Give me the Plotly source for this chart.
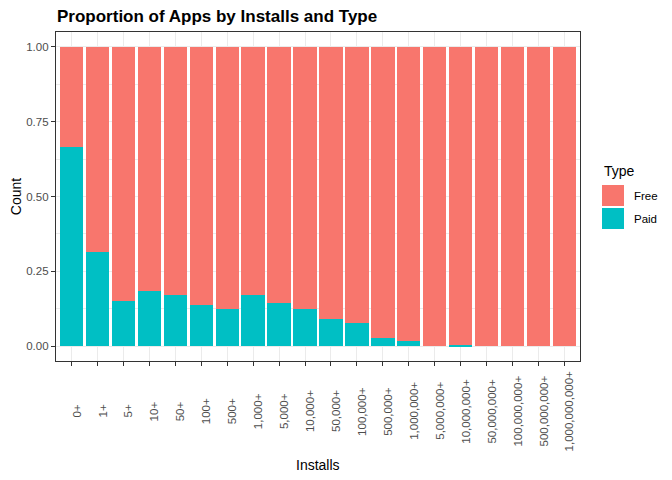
import plotly.graph_objects as go

# install buckets, in the order they appear on the axis
installs = ["0+", "1+", "5+", "10+", "50+", "100+", "500+", "1,000+", "5,000+",
            "10,000+", "50,000+", "100,000+", "500,000+", "1,000,000+",
            "5,000,000+", "10,000,000+", "50,000,000+", "100,000,000+",
            "500,000,000+", "1,000,000,000+"]

# share of paid apps in each bucket
paid_share = [0.667, 0.316, 0.150, 0.183, 0.170, 0.136, 0.123, 0.170, 0.143,
              0.125, 0.092, 0.077, 0.027, 0.016, 0.0, 0.002, 0.0, 0.0, 0.0, 0.0]
free_share = [round(1 - p, 3) for p in paid_share]

y_ticks = [0, 0.25, 0.5, 0.75, 1.0]
y_tick_text = ["0.00", "0.25", "0.50", "0.75", "1.00"]

FREE_COL = "#F8766D"
PAID_COL = "#00BFC4"
FONT = "Liberation Sans, Arial, sans-serif"

# the page body adds 8px on the top/left, so the figure is made 8px smaller
OFF = 8
W, H = 672 - OFF, 480 - OFF
L, R, T, B = 56 - OFF, 92, 32 - OFF, 119
pw, ph = W - L - R, H - T - B


# page pixel -> paper coords
def px_x(v):
    return (v - OFF - L) / pw


def px_y(v):
    return (H - B - (v - OFF)) / ph


fig = go.Figure()
# paid first so it ends up at the bottom of the stack
fig.add_trace(go.Bar(x=installs, y=paid_share, name="Paid", marker_color=PAID_COL,
                     marker_line_width=0, showlegend=False))
fig.add_trace(go.Bar(x=installs, y=free_share, name="Free", marker_color=FREE_COL,
                     marker_line_width=0, showlegend=False))

# rotated category labels, centred under each tick like ggplot does
annos = []
for lab in installs:
    annos.append(dict(x=lab, xref="x", y=px_y(411), yref="paper", text=lab,
                      textangle=-90, showarrow=False, xanchor="center", yanchor="middle",
                      xshift=5,
                      font=dict(family=FONT, size=11.5, color="#4D4D4D")))

# hand-made legend so the keys are as big as the ggplot ones
annos.append(dict(x=px_x(602), y=px_y(171), xref="paper", yref="paper", text="Type",
                  showarrow=False, xanchor="left", yanchor="middle",
                  font=dict(family=FONT, size=14, color="black")))
annos.append(dict(x=px_x(632), y=px_y(196), xref="paper", yref="paper", text="Free",
                  showarrow=False, xanchor="left", yanchor="middle",
                  font=dict(family=FONT, size=11.5, color="black")))
annos.append(dict(x=px_x(632), y=px_y(219), xref="paper", yref="paper", text="Paid",
                  showarrow=False, xanchor="left", yanchor="middle",
                  font=dict(family=FONT, size=11.5, color="black")))
# x axis title
annos.append(dict(x=0.5, y=px_y(465), xref="paper", yref="paper", text="Installs",
                  showarrow=False, xanchor="center", yanchor="middle",
                  font=dict(family=FONT, size=14, color="black")))

shapes = [
    dict(type="rect", xref="paper", yref="paper", x0=px_x(602), x1=px_x(624),
         y0=px_y(206), y1=px_y(185), fillcolor=FREE_COL, line_width=0),
    dict(type="rect", xref="paper", yref="paper", x0=px_x(602), x1=px_x(624),
         y0=px_y(229), y1=px_y(208), fillcolor=PAID_COL, line_width=0),
]

fig.update_layout(
    width=W, height=H,
    margin=dict(l=L, r=R, t=T, b=B, autoexpand=False),
    paper_bgcolor="white", plot_bgcolor="white",
    barmode="stack", bargap=0.1,
    title=dict(text="<b>Proportion of Apps by Installs and Type</b>", x=(57 - OFF) / W,
               xanchor="left", y=1 - (16 - OFF) / H, yanchor="middle",
               font=dict(family=FONT, size=17, color="black")),
    annotations=annos, shapes=shapes,
    font=dict(family=FONT),
)

fig.update_xaxes(
    range=[-0.6, 19.6], showticklabels=False, ticks="outside", ticklen=4,
    tickcolor="#333333", tickwidth=1,
    showgrid=True, gridcolor="#EBEBEB", gridwidth=1,
    showline=True, mirror=True, linecolor="#333333", linewidth=1.2,
    automargin=False,
)
fig.update_yaxes(
    range=[-0.05, 1.05], tickvals=y_ticks, ticktext=y_tick_text,
    ticks="outside", ticklen=4, tickcolor="#333333", tickwidth=1,
    tickfont=dict(family=FONT, size=11.5, color="#4D4D4D"),
    showgrid=True, gridcolor="#EBEBEB", gridwidth=1, zeroline=False,
    minor=dict(tickvals=[0.125, 0.375, 0.625, 0.875], showgrid=True,
               gridcolor="#EBEBEB", gridwidth=0.5, ticks=""),
    showline=True, mirror=True, linecolor="#333333", linewidth=1.2,
    title=dict(text="Count", standoff=6, font=dict(family=FONT, size=14, color="black")),
    automargin=False,
)

fig.write_html("out.html")
